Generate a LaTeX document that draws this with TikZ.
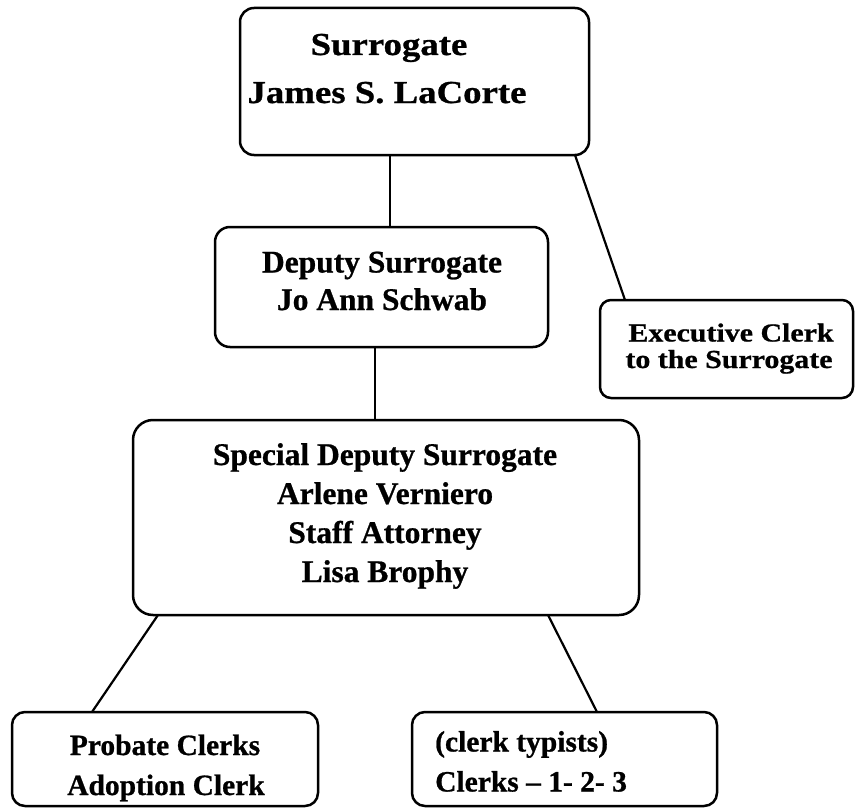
\documentclass[tikz,border=0pt]{standalone}
\usepackage{fontspec}
\setmainfont{Liberation Serif}[FakeBold=0.8]
\newfontfamily\wideserif{Liberation Serif}[FakeStretch=1.15,FakeBold=0.8]
\begin{document}
\begin{tikzpicture}[x=1pt, y=-1pt,
  box/.style={draw, line width=2.5pt, rounded corners=14pt, inner sep=0pt,
    outer sep=0pt, anchor=north west},
  link/.style={line width=2.2pt},
  ln/.style={inner sep=0pt, anchor=base},
  lnleft/.style={inner sep=0pt, anchor=base west},
  fTop/.style={font=\wideserif\bfseries\fontsize{32}{32}\selectfont},
  fDep/.style={font=\bfseries\fontsize{31.5}{31.5}\selectfont},
  fExe/.style={font=\wideserif\bfseries\fontsize{26}{26}\selectfont},
  fSpe/.style={font=\bfseries\fontsize{31.5}{31.5}\selectfont},
  fLow/.style={font=\bfseries\fontsize{29.5}{29.5}\selectfont}]
\useasboundingbox (0,0) rectangle (857,808);

% boxes
\node[box, minimum width=349, minimum height=147] (top) at (240,8) {};
\node[box, minimum width=333, minimum height=120, rounded corners=15pt] (dep) at (215,227) {};
\node[box, minimum width=253, minimum height=98, rounded corners=11pt] (exe) at (600,300) {};
\node[box, minimum width=506, minimum height=195, rounded corners=20pt] (spe) at (133,420) {};
\node[box, minimum width=306, minimum height=94, rounded corners=13pt] (pro) at (12,712) {};
\node[box, minimum width=305, minimum height=94, rounded corners=13pt] (clk) at (412,712) {};

% texts
\node[ln, fTop] (topA) at (389,55) {Surrogate};
\node[ln, fTop] (topB) at (387,103) {James S. LaCorte};
\node[ln, fDep] (depA) at (382,272.5) {Deputy Surrogate};
\node[ln, fDep] (depB) at (382,310) {Jo Ann Schwab};
\node[ln, fExe] (exeA) at (731,341.5) {Executive Clerk};
\node[ln, fExe] (exeB) at (729,368) {to the Surrogate};
\node[ln, fSpe] (speA) at (385,465) {Special Deputy Surrogate};
\node[ln, fSpe] (speB) at (385,504) {Arlene Verniero};
\node[ln, fSpe] (speC) at (385,543) {Staff Attorney};
\node[ln, fSpe] (speD) at (385,582) {Lisa Brophy};
\node[ln, fLow] (proA) at (165,755) {Probate Clerks};
\node[ln, fLow] (proB) at (166,795) {Adoption Clerk};
\node[lnleft, fLow] (clkA) at (435,751.5) {(clerk typists)};
\node[lnleft, fLow] (clkB) at (435,791.5) {Clerks -- 1- 2- 3};

% connectors
\coordinate (spineA) at (390,0);
\coordinate (spineB) at (375,0);
\draw[link] (top.south -| spineA) -- (dep.north -| spineA);
\draw[link] (dep.south -| spineB) -- (spe.north -| spineB);
\draw[link] ([xshift=-14pt]top.south east) -- ([xshift=25pt]exe.north west);
\draw[link] ([xshift=25pt]spe.south west) -- ([xshift=80pt]pro.north west);
\draw[link] ([xshift=-91pt]spe.south east) -- ([xshift=185pt]clk.north west);
\end{tikzpicture}
\end{document}
